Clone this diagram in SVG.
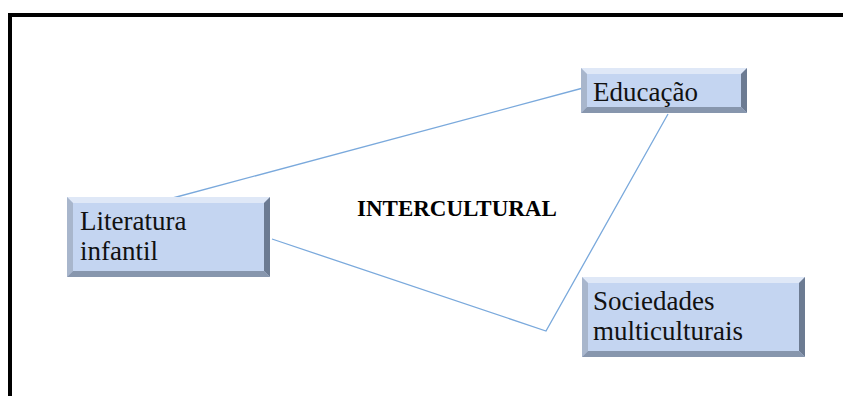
<svg xmlns="http://www.w3.org/2000/svg" width="843" height="396" viewBox="0 0 843 396">
<style>
.face{fill:#c4d5f1}
.bt{fill:#dfe8f7}
.bl{fill:#a8b6cc}
.br{fill:#6c7b92}
.bb{fill:#8796ad}
.lbl{font-family:"Liberation Serif","Times New Roman",serif;font-size:27px;fill:#111}
.conn{stroke:#7aa9dc;stroke-width:1.3;fill:none}
</style>
<rect x="0" y="0" width="843" height="396" fill="#fff"/>
<rect x="10" y="15" width="900" height="500" fill="none" stroke="#000" stroke-width="4"/>
<g id="connectors">
<line class="conn" x1="169" y1="199" x2="583" y2="88"/>
<polyline class="conn" points="272,239 546,331 668,114"/>
</g>
<g id="educacao">
<rect class="face" x="581" y="68" width="166" height="45"/>
<polygon class="bt" points="581,68 747,68 741,74 587,74"/>
<polygon class="bl" points="581,68 587,74 587,107 581,113"/>
<polygon class="br" points="747,68 747,113 741,107 741,74"/>
<polygon class="bb" points="581,113 747,113 741,107 587,107"/>
<text class="lbl" x="593" y="101">Educação</text>
</g>
<g id="literatura">
<rect class="face" x="67" y="197" width="203" height="80"/>
<polygon class="bt" points="67,197 270,197 264,203 73,203"/>
<polygon class="bl" points="67,197 73,203 73,271 67,277"/>
<polygon class="br" points="270,197 270,277 264,271 264,203"/>
<polygon class="bb" points="67,277 270,277 264,271 73,271"/>
<text class="lbl" x="80" y="230">Literatura</text>
<text class="lbl" x="80" y="260">infantil</text>
</g>
<g id="sociedades">
<rect class="face" x="582" y="277" width="223" height="80"/>
<polygon class="bt" points="582,277 805,277 799,283 588,283"/>
<polygon class="bl" points="582,277 588,283 588,351 582,357"/>
<polygon class="br" points="805,277 805,357 799,351 799,283"/>
<polygon class="bb" points="582,357 805,357 799,351 588,351"/>
<text class="lbl" x="593" y="310">Sociedades</text>
<text class="lbl" x="593" y="340">multiculturais</text>
</g>
<g id="intercultural">
<text x="357" y="216" font-family="'Liberation Serif','Times New Roman',serif" font-size="23" font-weight="bold" fill="#000">INTERCULTURAL</text>
</g>
</svg>
